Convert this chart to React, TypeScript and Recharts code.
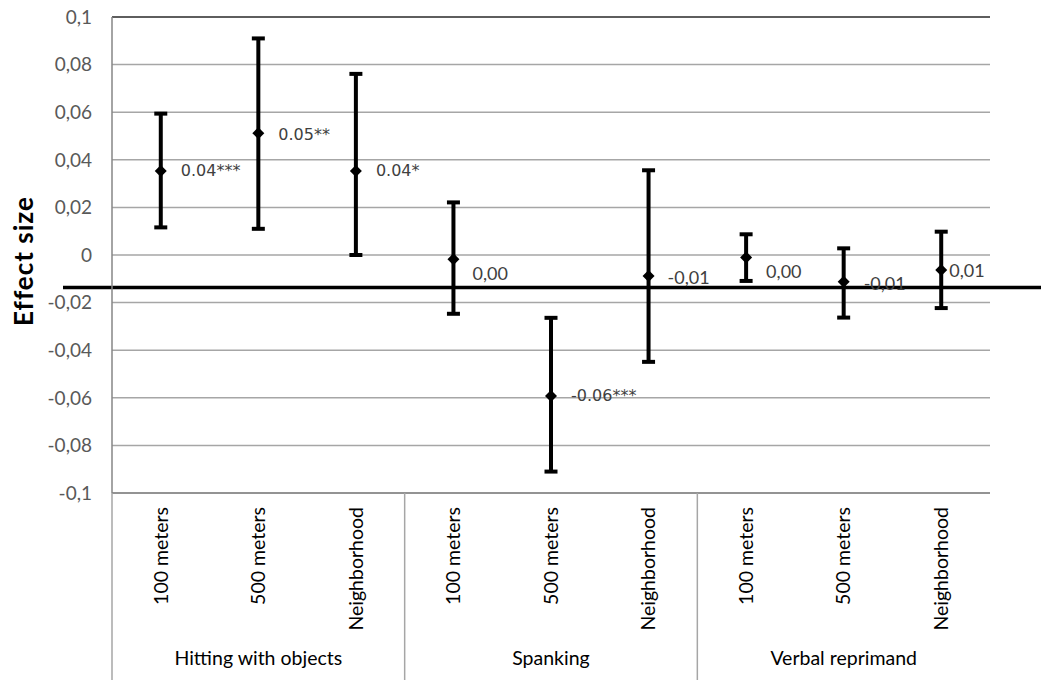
import { ComposedChart, Line, ErrorBar, XAxis, YAxis, CartesianGrid, ReferenceLine } from 'recharts';

const distances = [
  '100 meters', '500 meters', 'Neighborhood',
  '100 meters', '500 meters', 'Neighborhood',
  '100 meters', '500 meters', 'Neighborhood',
];
const groups = ['Hitting with objects', 'Spanking', 'Verbal reprimand'];
const estimates = [0.0353, 0.0512, 0.0353, -0.0018, -0.0592, -0.0088, -0.001, -0.0112, -0.0063];
const upper = [0.0594, 0.091, 0.0761, 0.0221, -0.0264, 0.0356, 0.0087, 0.0028, 0.0098];
const lower = [0.0116, 0.011, 0.0, -0.0247, -0.091, -0.0449, -0.0109, -0.0263, -0.0223];
const pointLabels = ['0.04***', '0.05**', '0.04*', '0,00', '-0.06***', '-0,01', '0,00', '-0,01', '0,01'];
const yTicks = [-0.1, -0.08, -0.06, -0.04, -0.02, 0, 0.02, 0.04, 0.06, 0.08, 0.1];
const baseline = -0.0137;

// label nudges [dx, dy] from each marker, as placed in the original
const labelShift = [[20, 0], [20, 1], [20, 0], [19, 14], [20, 0], [19, 1], [20, 14], [20, 1], [8, 0]];

// half of one category slot (plot is 878px wide, 9 slots)
const HALF = 878 / 9 / 2;

const data = distances.map((name, i) => ({
  name,
  group: groups[Math.floor(i / 3)],
  est: estimates[i],
  err: [estimates[i] - lower[i], upper[i] - estimates[i]],
  label: pointLabels[i],
}));

const fmt = (v: number) => String(parseFloat(v.toFixed(2))).replace('.', ',');

const Marker = (props: any) => {
  const { cx, cy, index } = props;
  if (cx == null || cy == null) return null;
  const [dx, dy] = labelShift[index];
  const lbl = pointLabels[index];
  const starred = lbl.includes('.');
  return (
    <g>
      <polygon points={`${cx},${cy - 6} ${cx + 6},${cy} ${cx},${cy + 6} ${cx - 6},${cy}`} fill="#000" />
      <text
        x={cx + dx}
        y={cy + dy}
        dominantBaseline="central"
        fill="#404040"
        fontSize={starred ? 16 : 18}
        fontFamily={starred ? 'DejaVu Sans' : 'Lato'}
      >
        {lbl}
      </text>
    </g>
  );
};

const CategoryTick = (props: any) => {
  const { x, y, payload, index } = props;
  return (
    <g>
      <text
        x={x}
        y={y + 14}
        dy="0.35em"
        transform={`rotate(-90, ${x}, ${y + 14})`}
        textAnchor="end"
        fill="#000"
        fontSize={19.5}
      >
        {payload.value}
      </text>
      {index % 3 === 0 && (
        <line x1={x - HALF} y1={y} x2={x - HALF} y2={y + 187} stroke="#a6a6a6" strokeWidth={1.5} />
      )}
      {index % 3 === 1 && (
        <text x={x} y={y + 172} textAnchor="middle" fill="#000" fontSize={19.5}>
          {groups[Math.floor(index / 3)]}
        </text>
      )}
    </g>
  );
};

const App = () => {
  return (
    <div style={{ position: 'absolute', left: 0, top: 0, width: 1041, height: 680, background: '#fff' }}>
      <ComposedChart
        width={1041}
        height={680}
        data={data}
        margin={{ top: 17, right: 51, bottom: 0, left: 0 }}
        style={{ fontFamily: 'Lato' }}
      >
        <CartesianGrid vertical={false} stroke="#a6a6a6" strokeWidth={1.5} />
        <XAxis
          dataKey="name"
          padding={{ left: HALF, right: HALF }}
          interval={0}
          height={187}
          tickLine={false}
          tickSize={0}
          tickMargin={0}
          axisLine={{ stroke: '#868686', strokeWidth: 1.5 }}
          tick={CategoryTick}
        />
        <YAxis
          domain={[-0.1, 0.1]}
          ticks={yTicks}
          tickFormatter={fmt}
          width={112}
          tickLine={false}
          tickSize={0}
          tickMargin={20}
          axisLine={{ stroke: '#868686', strokeWidth: 1.5 }}
          tick={{ fill: '#595959', fontSize: 19 }}
          label={{
            content: (p: any) => {
              const vb = p.viewBox || { x: 0, y: 17, height: 476 };
              const cx = vb.x + 23;
              const cy = vb.y + vb.height / 2 + 6;
              return (
                <text
                  x={cx}
                  y={cy}
                  transform={`rotate(-90, ${cx}, ${cy})`}
                  textAnchor="middle"
                  dominantBaseline="central"
                  fontWeight="bold"
                  fontSize={26}
                  letterSpacing={1}
                  fill="#000"
                >
                  Effect size
                </text>
              );
            },
          }}
        />
        <ReferenceLine y={0.1} stroke="#000" strokeWidth={1.2} />
        <Line
          dataKey="est"
          stroke="none"
          dot={Marker}
          activeDot={false}
          isAnimationActive={false}
        >
          <ErrorBar dataKey="err" direction="y" width={6.5} strokeWidth={4} stroke="#000" isAnimationActive={false} />
        </Line>
        <ReferenceLine
          y={baseline}
          shape={(p: any) => (
            <line x1={p.x1 - 49} y1={p.y1} x2={p.x2 + 51} y2={p.y2} stroke="#000" strokeWidth={3.5} />
          )}
        />
      </ComposedChart>
    </div>
  );
};

export default App;
